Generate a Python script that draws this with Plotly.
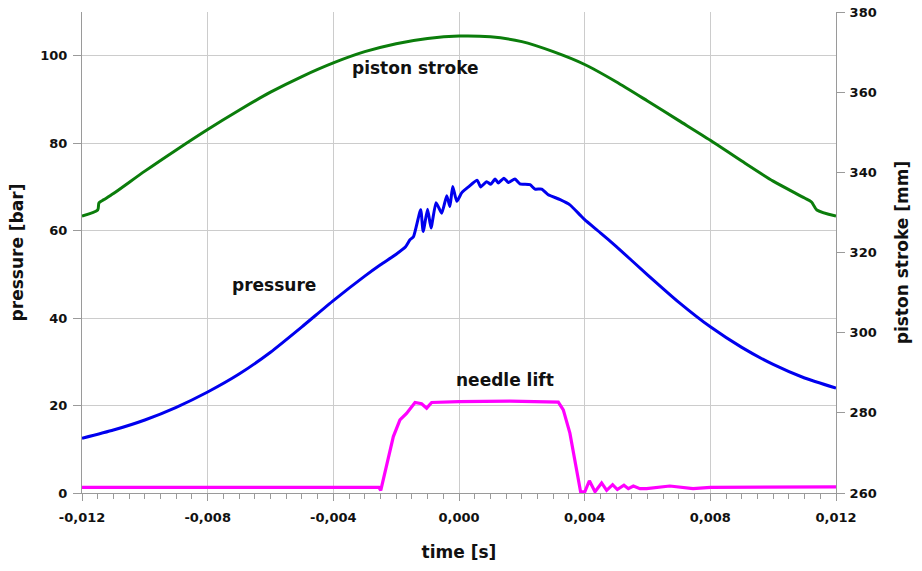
import plotly.graph_objects as go

# ---- data ----
pressure_t = [-0.012, -0.011, -0.010, -0.009, -0.008, -0.007, -0.006, -0.005, -0.004,
              -0.003, -0.0025, -0.002, -0.0017, -0.00156, -0.00145, -0.00122, -0.00114, -0.00100,
              -0.00089, -0.00073, -0.00055, -0.00039, -0.00029, -0.00020, -0.00007, 0.00009,
              0.00030, 0.00058, 0.00069, 0.00088, 0.00101, 0.00115, 0.00125, 0.00143, 0.00157,
              0.00178, 0.00194, 0.00226, 0.00242, 0.00263, 0.00284, 0.00322, 0.00353, 0.00385,
              0.0040, 0.0045, 0.005, 0.006, 0.007, 0.008, 0.009, 0.010, 0.011, 0.012]
pressure_bar = [12.5, 14.4, 16.7, 19.6, 23.1, 27.2, 32.2, 38.0, 44.0,
                49.6, 52.2, 54.6, 56.3, 57.9, 58.6, 64.8, 59.8, 64.9,
                60.6, 66.4, 64.0, 68.0, 65.5, 70.1, 66.7, 68.7,
                70.0, 71.5, 70.0, 71.2, 70.6, 71.8, 70.9, 72.0, 71.0,
                71.8, 70.7, 70.5, 69.5, 69.5, 68.2, 67.1, 65.9, 63.6,
                62.5, 59.5, 56.4, 49.9, 43.6, 38.0, 33.3, 29.4, 26.3, 24.0]

stroke_t = [-0.012, -0.0115, -0.01146, -0.0113, -0.011, -0.010, -0.009, -0.008, -0.007,
            -0.006, -0.005, -0.004, -0.003, -0.002, -0.001, 0.0, 0.001, 0.002, 0.003,
            0.004, 0.005, 0.006, 0.007, 0.008, 0.009, 0.010, 0.011, 0.01122, 0.01139, 0.012]
stroke_mm = [329.1, 330.6, 332.4, 333.2, 334.7, 340.3, 345.6, 350.7, 355.5,
             360.0, 363.9, 367.3, 370.1, 372.1, 373.4, 374.0, 373.8, 372.6, 370.1,
             366.9, 362.6, 357.8, 352.9, 348.0, 342.8, 337.8, 333.6, 332.6, 330.6, 329.1]

needle_t = [-0.012, -0.008, -0.004, -0.00255, -0.00249, -0.0023, -0.00209, -0.00188, -0.00167,
            -0.0014, -0.00119, -0.00103, -0.00087, 0.0, 0.00162, 0.00316, 0.00332, 0.00353,
            0.00374, 0.00387, 0.0040, 0.00415, 0.00433, 0.00454, 0.0047, 0.00489, 0.00504,
            0.00525, 0.00539, 0.00555, 0.00576, 0.00597, 0.00671, 0.00745, 0.008, 0.012]
needle_bar = [1.3, 1.3, 1.2, 1.3, 0.6, 6.4, 12.9, 16.7, 18.2,
              20.7, 20.4, 19.4, 20.7, 20.9, 21.0, 20.8, 19.0, 13.7,
              6.0, 0.3, 0.2, 2.8, 0.3, 2.3, 0.6, 1.9, 0.8,
              1.8, 1.0, 1.6, 1.0, 1.0, 1.6, 1.0, 1.3, 1.4]

x_ticks = [-0.012, -0.008, -0.004, 0.0, 0.004, 0.008, 0.012]
x_tick_labels = ["-0,012", "-0,008", "-0,004", "0,000", "0,004", "0,008", "0,012"]
y_ticks = [0, 20, 40, 60, 80, 100]
y2_ticks = [260, 280, 300, 320, 340, 360, 380]

FONT = "'DejaVu Sans', sans-serif"
AXIS_COL = "#9a9a9a"
GRID_COL = "#cccccc"
TXT = "#111111"

fig = go.Figure()
fig.add_trace(go.Scatter(x=stroke_t, y=stroke_mm, yaxis="y2", mode="lines",
                         line=dict(color="#0b7d0b", width=3, shape="spline", smoothing=0.7),
                         name="piston stroke"))
fig.add_trace(go.Scatter(x=pressure_t, y=pressure_bar, mode="lines",
                         line=dict(color="#0000ee", width=3, shape="spline", smoothing=0.5),
                         name="pressure"))
fig.add_trace(go.Scatter(x=needle_t, y=needle_bar, mode="lines",
                         line=dict(color="#ff00ff", width=3.2), name="needle lift"))

ann_font = dict(family=FONT, size=17, color=TXT)
fig.add_annotation(x=-0.0014, y=97.3, text="<b>piston stroke</b>", showarrow=False, font=ann_font)
fig.add_annotation(x=-0.0059, y=47.6, text="<b>pressure</b>", showarrow=False, font=ann_font)
fig.add_annotation(x=0.00146, y=25.9, text="<b>needle lift</b>", showarrow=False, font=ann_font)

tickfont = dict(family=FONT, size=13, color=TXT, weight="bold")
titlefont = dict(family=FONT, size=17, color=TXT)

fig.update_layout(
    width=922, height=571,
    margin=dict(l=82, r=86, t=12, b=78, autoexpand=False),
    paper_bgcolor="white", plot_bgcolor="white",
    showlegend=False,
    font=dict(family=FONT, size=13, color=TXT),
    xaxis=dict(range=[-0.012, 0.012], tickvals=x_ticks, ticktext=x_tick_labels,
               showgrid=True, gridcolor=GRID_COL, gridwidth=1,
               showline=True, linecolor=AXIS_COL, linewidth=1,
               ticks="outside", ticklen=7, tickcolor=AXIS_COL, ticklabelstandoff=5,
               minor=dict(dtick=0.0005, tick0=-0.012, ticks="outside", ticklen=5,
                          tickcolor=AXIS_COL, showgrid=False),
               tickfont=tickfont, automargin=False,
               title=dict(text="<b>time [s]</b>", font=titlefont, standoff=22),
               zeroline=False),
    yaxis=dict(range=[0, 110], tickvals=y_ticks,
               showgrid=True, gridcolor=GRID_COL, gridwidth=1,
               showline=True, linecolor=AXIS_COL, linewidth=1,
               ticks="outside", ticklen=8, tickcolor=AXIS_COL, ticklabelstandoff=3,
               tickfont=tickfont, automargin=False,
               title=dict(text="<b>pressure [bar]</b>", font=titlefont, standoff=12),
               zeroline=False),
    yaxis2=dict(range=[260, 380], tickvals=y2_ticks, overlaying="y", side="right",
                showgrid=False, showline=True, linecolor=AXIS_COL, linewidth=1,
                ticks="outside", ticklen=8, tickcolor=AXIS_COL, ticklabelstandoff=2,
                tickfont=tickfont, automargin=False,
                title=dict(text="<b>piston stroke [mm]</b>", font=titlefont, standoff=20),
                zeroline=False),
)

fig.write_html("out.html", config={"displayModeBar": False},
               post_script="document.body.style.margin='0px';")
